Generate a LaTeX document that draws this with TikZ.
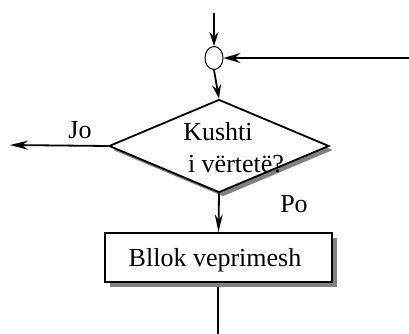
\documentclass[tikz,border=0pt]{standalone}
\usepackage{fontspec}
\setmainfont{Liberation Serif}
\usetikzlibrary{shapes.geometric,arrows.meta,shadows}
\begin{document}
\begin{tikzpicture}[x=1pt,y=-1pt,
  conn/.style={line width=1.8pt,-{Stealth[length=14pt,width=9pt,inset=5pt]}},
  shad/.style={drop shadow={shadow xshift=5pt,shadow yshift=-5pt,fill=gray,opacity=1}},
  txt/.style={font=\fontsize{26}{28}\selectfont,inner sep=0pt}]
\useasboundingbox (0,0) rectangle (409,334);
\node[draw,line width=1pt,ellipse,minimum width=18pt,minimum height=23pt,inner sep=0pt] (join) at (214,58) {};
\node[draw,line width=1.8pt,diamond,minimum width=220pt,minimum height=93pt,inner sep=0pt,fill=white,
  drop shadow={shadow xshift=4pt,shadow yshift=-4pt,fill=gray,opacity=1}] (cond) at (219,146) {};
\node[txt] (t1) at (218,132) {Kushti};
\node[txt] (t2) at (236,164) {i vërtetë?};
\node[draw,line width=1.8pt,rectangle,minimum width=227pt,minimum height=49pt,inner sep=0pt,fill=white,shad] (blk) at (218.5,257.5) {};
\node[txt] (t3) at (215,260) {Bllok veprimesh};
\node[txt] (jo) at (80,130) {Jo};
\node[txt] (po) at (294,204) {Po};
\coordinate (top) at (214,13);
\coordinate (rin) at (409,58);
\coordinate (lout) at (10,145);
\coordinate (bout) at (218,334);
\coordinate (bstart) at (218,287);
\draw[conn] (top) -- (join.north);
\draw[conn,-{Stealth[length=17pt,width=10pt,inset=6pt]}] (rin) -- (join.east);
\draw[conn] (join.south) -- (cond.north);
\draw[conn,-{Stealth[length=18pt,width=9pt,inset=6pt]}] (cond.west) -- (lout);
\draw[conn,-{Stealth[length=18pt,width=8pt,inset=6pt]}] (cond.south) -- (blk.north);
\draw[line width=1.8pt] (bstart) -- (bout);
\end{tikzpicture}
\end{document}
